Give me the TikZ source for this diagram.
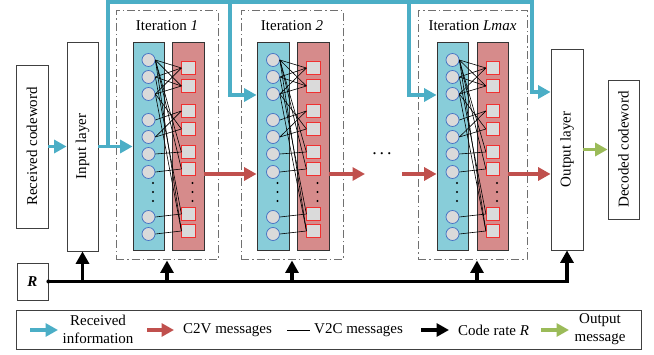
\documentclass[tikz,border=0pt]{standalone}
\usepackage{fontspec}
\usepackage{graphicx}
\setmainfont{Liberation Serif}
\usetikzlibrary{arrows.meta,calc}

\definecolor{infoblue}{HTML}{4BAEC6}
\definecolor{vfill}{HTML}{88CDD9}
\definecolor{cfill}{HTML}{D68B8B}
\definecolor{msgred}{HTML}{C0504D}
\definecolor{outgreen}{HTML}{9BBB59}
\definecolor{nodegray}{HTML}{DADADA}
\definecolor{vborder}{HTML}{4472C4}
\definecolor{cborder}{HTML}{F03030}
\definecolor{framegray}{HTML}{707070}

\begin{document}
\begin{tikzpicture}[x=1pt,y=-1pt,
  font=\fontsize{15}{18}\selectfont,
  plainbox/.style={draw=black!75,line width=0.8pt,fill=white,inner sep=0pt},
  iterframe/.style={draw=framegray,line width=1pt,dash pattern=on 8pt off 3pt on 1.5pt off 3pt,inner sep=0pt},
  vcolumn/.style={draw=black!80,line width=0.8pt,fill=vfill,inner sep=0pt},
  ccolumn/.style={draw=black!80,line width=0.8pt,fill=cfill,inner sep=0pt},
  vnode/.style={circle,draw=vborder,line width=0.7pt,fill=nodegray,minimum size=13pt,inner sep=0pt},
  cnode/.style={rectangle,draw=cborder,line width=0.7pt,fill=nodegray,minimum size=13.5pt,inner sep=0pt},
  tanner/.style={draw=black,line width=0.6pt},
  fat/.style={line width=3.6pt},
  tip/.style={-{Triangle[length=12.5pt,width=13pt]}},
  infoarrow/.style={fat,tip,draw=infoblue},
  c2varrow/.style={fat,tip,draw=msgred},
  ratearrow/.style={fat,tip,draw=black},
  outarrow/.style={fat,tip,draw=outgreen},
  dotmark/.style={circle,fill=black,minimum size=2.2pt,inner sep=0pt}
]
\useasboundingbox (0,0) rectangle (654,355);

% ---- outer boxes ----
\node[plainbox,minimum width=32pt,minimum height=163pt] (recv) at (32,146.5)
  {\rotatebox{90}{Received codeword}};
\node[plainbox,minimum width=31pt,minimum height=209pt] (inlayer) at (82.5,146.5)
  {\rotatebox{90}{Input layer}};
\node[plainbox,minimum width=32pt,minimum height=201pt] (outlayer) at (567,149.5)
  {\rotatebox{90}{Output layer}};
\node[plainbox,minimum width=31pt,minimum height=139pt] (decoded) at (623.5,149.5)
  {\rotatebox{90}{Decoded codeword}};
\node[plainbox,minimum width=31pt,minimum height=37pt] (Rbox) at (32.5,281.5)
  {\textbf{\textit{R}}};

% ---- decoding iterations ----
\foreach \k/\fa/\fb/\va/\vb/\ca/\cb/\ttl in
  {1/116/218/133/164/172/204/1, 2/241/343/257/289/297/329/2, L/418/527/437/468/477/508/Lmax}
{
  \pgfmathsetmacro\fx{(\fa+\fb)/2}
  \pgfmathsetmacro\fw{\fb-\fa}
  \pgfmathsetmacro\vx{(\va+\vb)/2}
  \pgfmathsetmacro\vw{\vb-\va}
  \pgfmathsetmacro\cx{(\ca+\cb)/2}
  \pgfmathsetmacro\cw{\cb-\ca}
  \node[iterframe,minimum width=\fw pt,minimum height=249pt] (frame\k) at (\fx,135.5) {};
  \node (title\k) at (\fx,26) {Iteration \textit{\ttl}};
  \node[vcolumn,minimum width=\vw pt,minimum height=208pt] (vcol\k) at (\vx,146) {};
  \node[ccolumn,minimum width=\cw pt,minimum height=208pt] (ccol\k) at (\cx,146) {};
  % variable nodes
  \foreach \n/\yy in {1/60,2/77,3/94,4/120,5/137,6/154,7/172,8/217,9/234}
    \node[vnode] (v\k-\n) at (\vx,\yy) {};
  % check nodes
  \foreach \n/\yy in {1/68,2/86,3/111,4/129,5/152,6/169,7/214,8/231}
    \node[cnode] (c\k-\n) at (\cx+0.5,\yy) {};
  % vertical ellipses
  \foreach \yy in {183,192,201}{
    \node[dotmark] at (\vx+4.5,\yy) {};
    \node[dotmark] at (\cx+4.5,\yy) {};
  }
  % Tanner graph edges (V2C messages)
  \foreach \a/\b in {1/1,1/2,1/5,1/6,1/8, 2/1,2/2,2/7, 3/1,3/2,3/4,3/8,
                     4/3,5/3,5/4, 6/5,7/6,8/7,9/8}
    \draw[tanner] (v\k-\a.east) -- (c\k-\b.west);
}

% ---- received information (blue) ----
\coordinate (tap) at (108,146.5);
\coordinate (topA) at (108,2);
\coordinate (topB) at (230,2);
\coordinate (topC) at (409,2);
\coordinate (topD) at (532,2);
\coordinate (dropB) at (230,95);
\coordinate (dropC) at (409,95);
\coordinate (dropD) at (532,92);
\draw[infoarrow] (recv.east) -- (inlayer.west);
\draw[infoarrow] (inlayer.east) -- (vcol1.west |- inlayer.east);
\draw[infoarrow,line join=miter] (tap) -- (topA) -- (topD) -- (dropD) -- (outlayer.west |- dropD);
\draw[infoarrow,line join=miter] (topB) -- (dropB) -- (vcol2.west |- dropB);
\draw[infoarrow,line join=miter] (topC) -- (dropC) -- (vcolL.west |- dropC);

% ---- C2V messages between iterations (red) ----
\coordinate (c2v) at (0,174);
\coordinate (gapL) at (365,174);
\coordinate (gapR) at (402,174);
\draw[c2varrow] (ccol1.east |- c2v) -- (vcol2.west |- c2v);
\draw[c2varrow] (ccol2.east |- c2v) -- (gapL);
\draw[c2varrow] (gapR) -- (vcolL.west |- c2v);
\draw[c2varrow] (ccolL.east |- c2v) -- (outlayer.west |- c2v);
\node[font=\fontsize{18}{18}\selectfont,inner sep=0pt] (gapdots) at (382,154) {.\hspace{3pt}.\hspace{3pt}.};

% ---- decoded output (green) ----
\draw[outarrow] (outlayer.east) -- (decoded.west);

% ---- code rate R (black) ----
\coordinate (rateL) at (477,0);
\draw[ratearrow,line join=miter] (Rbox.east) -| (outlayer.south);
\fill (Rbox.east) circle (2pt);
\draw[ratearrow] (inlayer.south |- Rbox.east) -- (inlayer.south);
\draw[ratearrow] (frame1.south |- Rbox.east) -- (frame1.south);
\draw[ratearrow] (frame2.south |- Rbox.east) -- (frame2.south);
\draw[ratearrow] (rateL |- Rbox.east) -- (rateL |- frameL.south);

% ---- legend ----
\node[draw=black!75,line width=0.8pt,minimum width=625pt,minimum height=39pt,inner sep=0pt] (legend) at (328.5,329.5) {};
\coordinate (lg1a) at (30,330);   \coordinate (lg1b) at (58,330);
\coordinate (lg2a) at (147,330);  \coordinate (lg2b) at (174,330);
\coordinate (lg3a) at (287,330);  \coordinate (lg3b) at (310,330);
\coordinate (lg4a) at (421,330);  \coordinate (lg4b) at (449,330);
\coordinate (lg5a) at (541,330);  \coordinate (lg5b) at (569,330);
\draw[infoarrow] (lg1a) -- (lg1b);
\node[align=center,inner sep=0pt] (lt1) at (98,329.5) {Received\\information};
\draw[c2varrow] (lg2a) -- (lg2b);
\node[anchor=west,inner sep=0pt] (lt2) at (183,330) {C2V messages};
\draw[draw=black,line width=0.8pt] (lg3a) -- (lg3b);
\node[anchor=west,inner sep=0pt] (lt3) at (314,330) {V2C messages};
\draw[ratearrow] (lg4a) -- (lg4b);
\node[anchor=west,inner sep=0pt] (lt4) at (458,330) {Code rate \textit{R}};
\draw[outarrow] (lg5a) -- (lg5b);
\node[align=center,inner sep=0pt] (lt5) at (600,329.5) {Output\\message};
\end{tikzpicture}
\end{document}
